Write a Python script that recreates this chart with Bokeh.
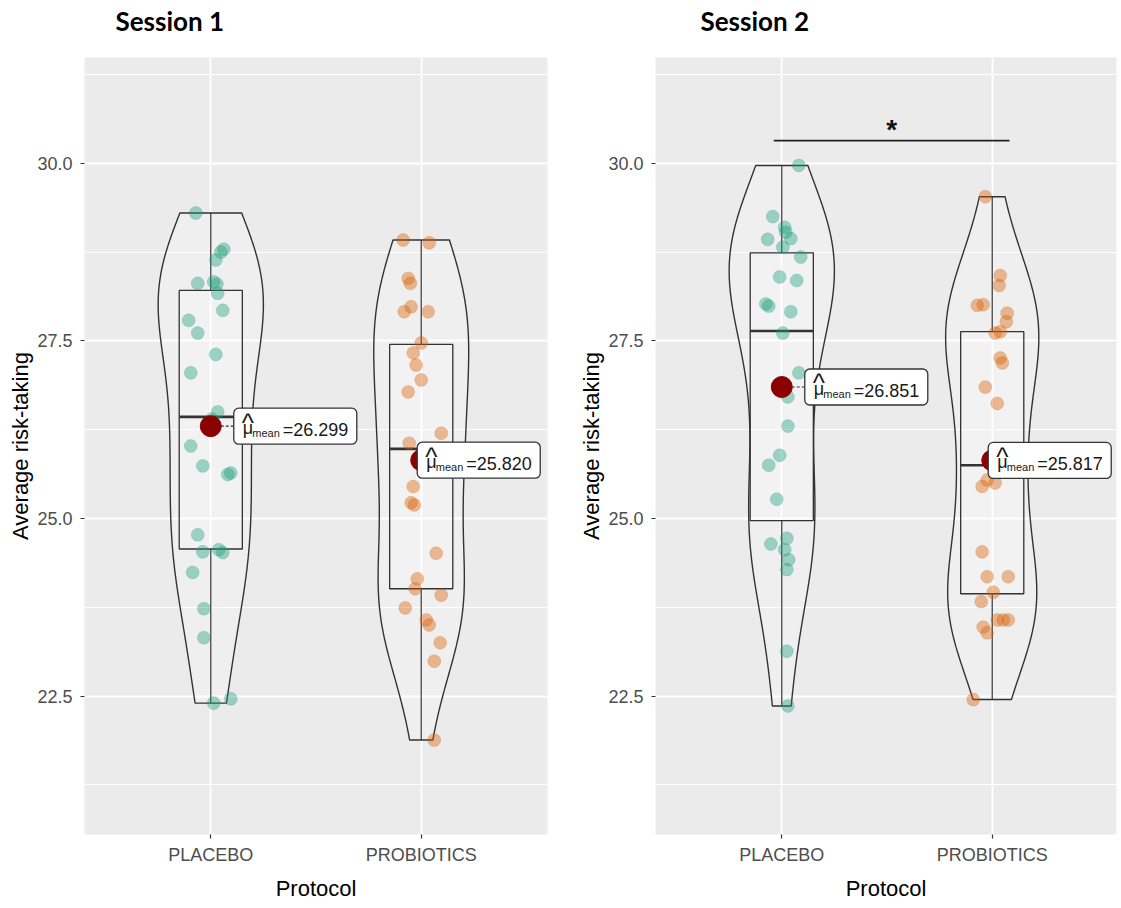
import numpy as np
from bokeh.plotting import figure
from bokeh.layouts import row, column
from bokeh.models import Range1d, FixedTicker, PrintfTickFormatter
from bokeh.core.properties import value
from bokeh.embed import file_html
from bokeh.resources import INLINE

# ---------------- data ----------------
GROUPS = ["PLACEBO", "PROBIOTICS"]
SESSIONS = ["Session 1", "Session 2"]
X_LABEL = "Protocol"
Y_LABEL = "Average risk-taking"

S1_PLACEBO = [29.30, 28.79, 28.75, 28.64, 28.31, 28.33, 28.30, 28.17, 27.93, 27.79,
              27.61, 27.31, 27.05, 26.50, 26.40, 26.02, 25.74, 25.64, 25.62, 24.77,
              24.53, 24.56, 24.52, 24.24, 23.73, 23.32, 22.40, 22.46]
S1_PLACEBO_JIT = [-0.071, 0.062, 0.048, 0.024, -0.062, 0.014, 0.029, 0.033, 0.057, -0.105,
                  -0.062, 0.024, -0.095, 0.033, 0.005, -0.095, -0.038, 0.095, 0.081, -0.062,
                  -0.038, 0.038, 0.057, -0.086, -0.033, -0.033, 0.014, 0.095]

S1_PROBIOTICS = [28.92, 28.88, 28.38, 28.31, 27.98, 27.91, 27.91, 27.47, 27.33, 27.16,
                 26.95, 26.78, 26.20, 26.06, 25.95, 25.85, 25.45, 25.22, 25.19, 24.51,
                 24.15, 24.01, 23.92, 23.74, 23.57, 23.50, 23.25, 22.99, 21.88]
S1_PROBIOTICS_JIT = [-0.086, 0.038, -0.062, -0.052, -0.048, -0.081, 0.033, 0.0, -0.038, -0.024,
                     0.0, -0.062, 0.095, -0.057, 0.020, 0.045, -0.038, -0.048, -0.033, 0.071,
                     -0.019, -0.029, 0.095, -0.076, 0.024, 0.038, 0.090, 0.062, 0.062]

S2_PLACEBO = [29.97, 29.25, 29.10, 29.03, 28.93, 28.94, 28.82, 28.68, 28.40, 28.35,
              28.02, 27.99, 27.91, 27.61, 27.05, 26.71, 26.30, 25.89, 25.75, 25.27,
              24.72, 24.64, 24.56, 24.42, 24.28, 23.13, 22.36]
S2_PLACEBO_JIT = [0.081, -0.043, 0.014, 0.019, -0.067, 0.043, 0.005, 0.090, -0.010, 0.071,
                  -0.076, -0.062, 0.043, 0.005, 0.081, 0.029, 0.029, -0.010, -0.062, -0.024,
                  0.024, -0.052, 0.014, 0.033, 0.024, 0.024, 0.029]

S2_PROBIOTICS = [29.53, 28.42, 28.28, 28.00, 28.01, 27.89, 27.77, 27.63, 27.61, 27.26,
                 27.19, 26.85, 26.62, 25.90, 25.75, 25.54, 25.50, 25.45, 24.53, 24.18,
                 24.18, 23.96, 23.83, 23.57, 23.57, 23.57, 23.47, 23.39, 22.45]
S2_PROBIOTICS_JIT = [-0.033, 0.038, 0.033, -0.071, -0.043, 0.071, 0.067, 0.038, 0.014, 0.038,
                     0.048, -0.033, 0.024, 0.030, 0.060, -0.024, 0.014, -0.048, -0.048, -0.024,
                     0.076, 0.005, -0.052, 0.024, 0.052, 0.076, -0.043, -0.024, -0.090]

MEANS_S1 = [26.299, 25.820]
MEANS_S2 = [26.851, 25.817]
Q1_S1 = [24.57, 24.01]
MED_S1 = [26.43, 25.98]
Q3_S1 = [28.21, 27.45]
Q1_S2 = [24.97, 23.94]
MED_S2 = [27.64, 25.75]
Q3_S2 = [28.74, 27.63]

Y_TICKS = [22.5, 25.0, 27.5, 30.0]
Y_MINOR = [21.25, 23.75, 26.25, 28.75, 31.25]
SIG_S2_X = [0.962, 2.082]
SIG_S2_Y = 30.32
SIG_S2_TEXT = "*"

# ---------------- styles / layout ----------------
COLORS = ["#1B9E77", "#D95F02"]
LINE = "#333333"
FW1, FW2, FH = 463, 461, 777
BL, BR1, BR2, BB, HEAD = 84, 24, 2, 74, 57
Y0, Y1 = 20.55, 31.49
X0 = 0.4
PXU = FW1 / 2.2            # px per x unit
PYU = FH / (Y1 - Y0)       # px per y unit
LABEL_DX = [23, -4]        # label box left edge relative to mean point, px
FONT = value("Liberation Sans")


def kde(vals):
    v = np.asarray(vals, dtype=float)
    n = len(v)
    sd = v.std(ddof=1)
    iqr = np.percentile(v, 75) - np.percentile(v, 25)
    bw = 0.9 * min(sd, iqr / 1.34) * n ** -0.2
    g = np.linspace(v.min(), v.max(), 512)
    d = np.exp(-0.5 * ((g[:, None] - v[None, :]) / bw) ** 2).sum(axis=1) / (n * bw * np.sqrt(2 * np.pi))
    return g, d


def txt(p, x, y, s, size, align="left", style="normal", color="#1a1a1a", font=FONT):
    p.text(x=[x], y=[y], text=[s], text_font=font, text_font_size=size,
           text_font_style=style, text_baseline="middle", text_align=align,
           text_color=color)


def header(title, fw, br, offset):
    # a blank strip above the panel whose frame is aligned with the panel frame
    h = figure(frame_width=fw, frame_height=HEAD, x_range=Range1d(0, fw), y_range=Range1d(HEAD, 0),
               x_axis_type=None, y_axis_type=None, output_backend="svg",
               toolbar_location=None, min_border_left=BL, min_border_right=br,
               min_border_top=0, min_border_bottom=0, outline_line_color=None,
               background_fill_color="white", border_fill_color="white")
    h.grid.visible = False
    txt(h, offset, 20.5, title, "26px", style="bold", color="black", font=value("Lato"))
    return h


def panel(groups_vals, groups_jit, means, q1, med, q3, fw, min_right, sig=False):
    x_end = X0 + fw / PXU
    p = figure(frame_width=fw, frame_height=FH,
               x_range=Range1d(X0, x_end), y_range=Range1d(Y0, Y1),
               output_backend="svg", toolbar_location=None,
               min_border_left=BL, min_border_right=min_right,
               min_border_top=0, min_border_bottom=BB,
               background_fill_color="#EBEBEB", border_fill_color="white",
               outline_line_color=None)

    # axes
    p.xaxis.ticker = FixedTicker(ticks=[1, 2])
    p.xaxis.major_label_overrides = {1: GROUPS[0], 2: GROUPS[1]}
    p.yaxis.ticker = FixedTicker(ticks=Y_TICKS, minor_ticks=Y_MINOR)
    p.yaxis.formatter = PrintfTickFormatter(format="%.1f")
    for ax in (p.xaxis, p.yaxis):
        ax.axis_line_color = None
        ax.major_tick_line_color = LINE
        ax.major_tick_line_width = 1.2
        ax.major_tick_out = 4
        ax.major_tick_in = 0
        ax.minor_tick_line_color = None
        ax.major_label_text_font = "Liberation Sans"
        ax.major_label_text_font_size = "18px"
        ax.major_label_text_color = "#4D4D4D"
        ax.axis_label_text_font = "Liberation Sans"
        ax.axis_label_text_font_size = "22px"
        ax.axis_label_text_font_style = "normal"
        ax.axis_label_text_color = "black"
    p.xaxis.axis_label = X_LABEL
    p.yaxis.axis_label = Y_LABEL
    p.xaxis.major_label_standoff = 6
    p.xaxis.axis_label_standoff = 8
    p.yaxis.major_label_standoff = 8
    p.yaxis.axis_label_standoff = 1

    # grid
    p.xgrid.ticker = FixedTicker(ticks=[1, 2])
    p.xgrid.grid_line_color = "white"
    p.xgrid.grid_line_width = 1.8
    p.ygrid.grid_line_color = "white"
    p.ygrid.grid_line_width = 1.8
    p.ygrid.minor_grid_line_color = "white"
    p.ygrid.minor_grid_line_width = 1.0

    cats = [1, 2]
    # violins (area-scaled, width 0.5)
    dens = [kde(v) for v in groups_vals]
    dmax = max(d.max() for _, d in dens)
    for c, (g, d) in zip(cats, dens):
        half = d / dmax * 0.25
        xs = np.concatenate([c - half, (c + half)[::-1]])
        ys = np.concatenate([g, g[::-1]])
        p.patch(xs, ys, fill_color="white", fill_alpha=0.2,
                line_color=LINE, line_width=1.4)

    # boxes
    vmin = [min(v) for v in groups_vals]
    vmax = [max(v) for v in groups_vals]
    left = [c - 0.15 for c in cats]
    right = [c + 0.15 for c in cats]
    p.segment(x0=cats, y0=q3, x1=cats, y1=vmax, line_color=LINE, line_width=1.2)
    p.segment(x0=cats, y0=q1, x1=cats, y1=vmin, line_color=LINE, line_width=1.2)
    p.quad(left=left, right=right, bottom=q1, top=q3, fill_color="white",
           fill_alpha=0.2, line_color=LINE, line_width=1.3)
    p.segment(x0=left, y0=med, x1=right, y1=med, line_color=LINE, line_width=2.6)

    # points
    for c, vals, jit, col in zip(cats, groups_vals, groups_jit, COLORS):
        p.scatter(x=[c + j for j in jit], y=vals, size=13, fill_color=col,
                  fill_alpha=0.4, line_color=col, line_alpha=0.2)

    # means
    p.scatter(x=cats, y=means, size=21, fill_color="#8B0000", line_color="#8B0000")

    # mean labels
    for c, m, dx in zip(cats, means, LABEL_DX):
        L = c + dx / PXU
        if dx > 0:
            p.segment(x0=[c + 10 / PXU], y0=[m], x1=[L], y1=[m], line_color=LINE,
                      line_width=1.2, line_dash="3 2")
        kw = dict(x=[L + 61.5 / PXU], y=[m], width=123, height=36,
                  width_units="screen", height_units="screen",
                  fill_color="white", line_color=LINE, line_width=1.3)
        try:
            p.rect(border_radius=5, **kw)
        except Exception:
            p.rect(**kw)
        txt(p, L + 9 / PXU, m - 2 / PYU, "\u03bc", "18px")
        txt(p, L + 14 / PXU, m + 3.5 / PYU, "^", "26px", align="center")
        txt(p, L + 18.5 / PXU, m - 7 / PYU, "mean", "11px")
        txt(p, L + 49 / PXU, m - 4 / PYU, "=%.3f" % m, "18px")

    if sig:
        p.segment(x0=[SIG_S2_X[0]], y0=[SIG_S2_Y], x1=[SIG_S2_X[1]], y1=[SIG_S2_Y],
                  line_color="#222222", line_width=1.6)
        txt(p, sum(SIG_S2_X) / 2, SIG_S2_Y + 11 / PYU, SIG_S2_TEXT, "28px",
            align="center", style="bold", color="#111111")
    return p


p1 = panel([S1_PLACEBO, S1_PROBIOTICS], [S1_PLACEBO_JIT, S1_PROBIOTICS_JIT],
           MEANS_S1, Q1_S1, MED_S1, Q3_S1, FW1, BR1)
p2 = panel([S2_PLACEBO, S2_PROBIOTICS], [S2_PLACEBO_JIT, S2_PROBIOTICS_JIT],
           MEANS_S2, Q1_S2, MED_S2, Q3_S2, FW2, BR2, sig=True)
h1 = header(SESSIONS[0], FW1, BR1, 31)
h2 = header(SESSIONS[1], FW2, BR2, 45)

layout = row(column(h1, p1), column(h2, p2))
open("out.html", "w").write(file_html(layout, INLINE))
